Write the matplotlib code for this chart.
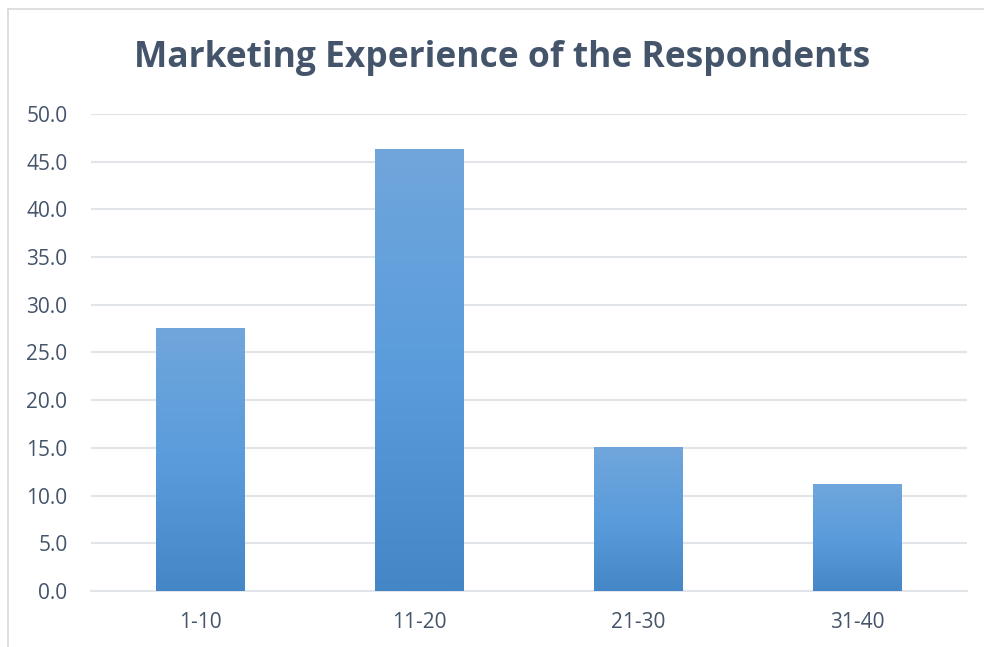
import matplotlib
matplotlib.use('Agg')
import matplotlib.pyplot as plt
import numpy as np
from matplotlib.colors import LinearSegmentedColormap
from matplotlib.lines import Line2D

categories = ['1-10', '11-20', '21-30', '31-40']
values = [27.5, 46.3, 15.0, 11.2]
yticks = [0, 5, 10, 15, 20, 25, 30, 35, 40, 45, 50]

text_color = '#44546A'
grid_color = '#E1E4E9'

fig = plt.figure(figsize=(9.84, 6.47), dpi=100)
ax = fig.add_axes([0.0925, 0.0866, 0.8902, 0.7372])

# outer chart frame (only top and left edges visible in the original crop)
fx, fy = 8 / 984, 1 - 9 / 647
fig.lines.append(Line2D([fx, 1.0], [fy, fy], transform=fig.transFigure,
                        color='#D9D9D9', linewidth=1.2))
fig.lines.append(Line2D([fx, fx], [0.0, fy], transform=fig.transFigure,
                        color='#D9D9D9', linewidth=1.2))

x = np.arange(len(categories))
bars = ax.bar(x, values, width=0.405, color='none', edgecolor='none', zorder=3)

# vertical gradient fill for each bar
cmap = LinearSegmentedColormap.from_list('bar', ['#4486C6', '#5A9CDC', '#70A6DB'])
grad = np.linspace(0, 1, 256).reshape(-1, 1)
for b in bars:
    x0, w, h = b.get_x(), b.get_width(), b.get_height()
    ax.imshow(grad, cmap=cmap, aspect='auto', origin='lower',
              extent=[x0, x0 + w, 0, h], zorder=3)

ax.set_xlim(-0.5, len(categories) - 0.5)
ax.set_ylim(0, 50)
ax.set_yticks(yticks)
ax.set_yticklabels([f'{v:.1f}' for v in yticks])
ax.set_xticks(x)
ax.set_xticklabels(categories)

ax.grid(axis='y', color=grid_color, linewidth=1.5, zorder=0)
ax.set_axisbelow(True)
for s in ['top', 'right', 'left']:
    ax.spines[s].set_visible(False)
ax.spines['bottom'].set_color(grid_color)
ax.spines['bottom'].set_linewidth(1.5)
ax.tick_params(axis='both', length=0, labelsize=15, labelcolor=text_color,
               labelfontfamily='Open Sans')
ax.tick_params(axis='y', pad=17)
ax.tick_params(axis='x', pad=15)

fig.text(0.51, 0.911, 'Marketing Experience of the Respondents',
         ha='center', va='center', fontsize=25.5, fontweight='bold',
         color=text_color, family='Open Sans')

fig.savefig('out.png', dpi=100)
